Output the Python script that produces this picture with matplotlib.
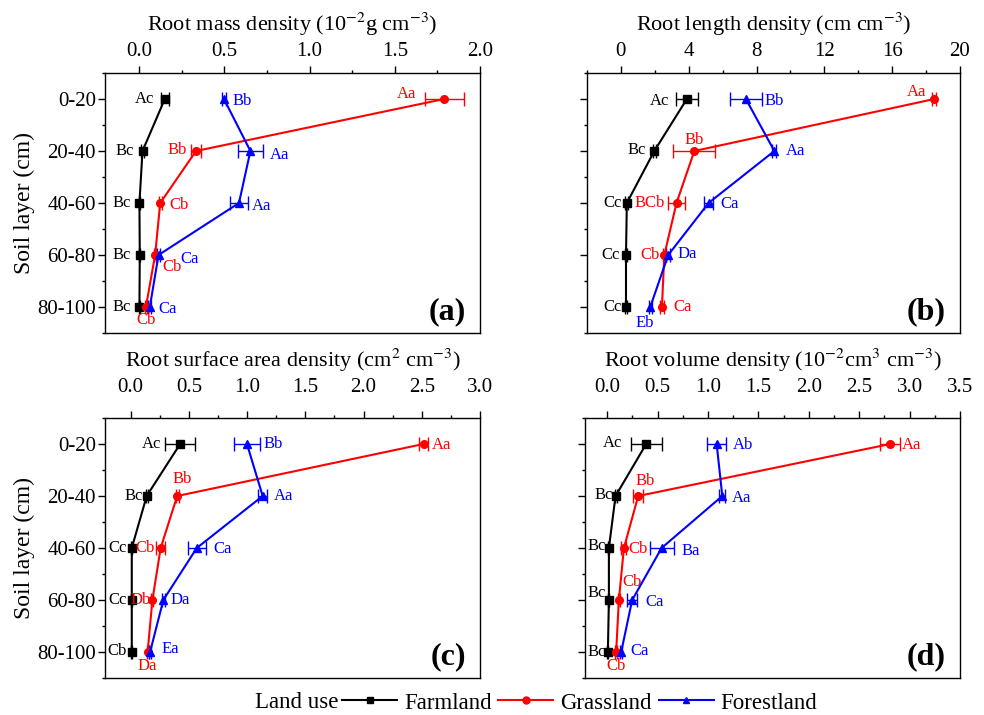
import matplotlib
matplotlib.use('Agg')
import matplotlib.pyplot as plt
from matplotlib.ticker import MultipleLocator
from matplotlib.lines import Line2D

plt.rcParams['font.family'] = ['Liberation Serif', 'DejaVu Serif']
plt.rcParams['mathtext.fontset'] = 'stix'

# DATA
layers = ['0-20', '20-40', '40-60', '60-80', '80-100']
land_uses = ['Farmland', 'Grassland', 'Forestland']

# (a) root mass density, 10^-2 g cm^-3  -> [farm, grass, forest]
rmd_mean = [[0.151, 0.020, 0.002, 0.004, 0.002],
            [1.790, 0.334, 0.124, 0.094, 0.040],
            [0.498, 0.653, 0.586, 0.114, 0.063]]
rmd_err = [[0.022, 0.008, 0.004, 0.004, 0.004],
           [0.115, 0.030, 0.008, 0.008, 0.008],
           [0.010, 0.075, 0.055, 0.010, 0.008]]
rmd_sig = [['Ac', 'Bc', 'Bc', 'Bc', 'Bc'],
           ['Aa', 'Bb', 'Cb', 'Cb', 'Cb'],
           ['Bb', 'Aa', 'Aa', 'Ca', 'Ca']]

# (b) root length density, cm cm^-3
rld_mean = [[3.89, 1.97, 0.35, 0.30, 0.30],
            [18.49, 4.33, 3.28, 2.56, 2.42],
            [7.37, 9.05, 5.17, 2.79, 1.73]]
rld_err = [[0.65, 0.10, 0.08, 0.06, 0.06],
           [0.12, 1.24, 0.52, 0.10, 0.10],
           [0.93, 0.12, 0.25, 0.12, 0.10]]
rld_sig = [['Ac', 'Bc', 'Cc', 'Cc', 'Cc'],
           ['Aa', 'Bb', 'BCb', 'Cb', 'Ca'],
           ['Bb', 'Aa', 'Ca', 'Da', 'Eb']]

# (c) root surface area density, cm2 cm^-3
rsa_mean = [[0.425, 0.138, 0.010, 0.010, 0.010],
            [2.515, 0.400, 0.258, 0.187, 0.146],
            [0.999, 1.134, 0.568, 0.281, 0.167]]
rsa_err = [[0.130, 0.010, 0.006, 0.006, 0.006],
           [0.040, 0.012, 0.040, 0.008, 0.008],
           [0.110, 0.040, 0.075, 0.010, 0.010]]
rsa_sig = [['Ac', 'Bc', 'Cc', 'Cc', 'Cb'],
           ['Aa', 'Bb', 'Cb', 'Db', 'Da'],
           ['Bb', 'Aa', 'Ca', 'Da', 'Ea']]

# (d) root volume density, 10^-2 cm3 cm^-3
rvd_mean = [[0.387, 0.083, 0.017, 0.017, 0.007],
            [2.808, 0.308, 0.166, 0.116, 0.089],
            [1.086, 1.142, 0.540, 0.248, 0.139]]
rvd_err = [[0.155, 0.010, 0.006, 0.006, 0.006],
           [0.100, 0.050, 0.025, 0.010, 0.010],
           [0.097, 0.030, 0.118, 0.050, 0.010]]
rvd_sig = [['Ac', 'Bc', 'Bc', 'Bc', 'Bc'],
           ['Aa', 'Bb', 'Cb', 'Cb', 'Cb'],
           ['Ab', 'Aa', 'Ba', 'Ca', 'Ca']]


# STYLE
colors = ['black', '#ff0000', '#0000ff']
markers = ['s', 'o', '^']
depth = list(range(1, len(layers) + 1))

# label offsets in pixels (dx, dy, ha) for each land use and layer
off_a = [[(-11, 0, 'right'), (-9, 0, 'right'), (-9, 0, 'right'), (-9, 0, 'right'), (-9, 0, 'right')],
         [(-28, 5, 'right'), (-9, 1, 'right'), (9, -2, 'left'), (7, -12, 'left'), (0, -13, 'center')],
         [(9, -2, 'left'), (19, -4, 'left'), (13, -3, 'left'), (22, -4, 'left'), (9, -2, 'left')]]
off_b = [[(-18, -2, 'right'), (-8, 1, 'right'), (-5, 0, 'right'), (-6, 0, 'right'), (-4, 0, 'right')],
         [(-8, 7, 'right'), (0, 11, 'center'), (-12, 0, 'right'), (-5, 0, 'right'), (11, 0, 'left')],
         [(19, -2, 'left'), (11, 0, 'left'), (12, -1, 'left'), (9, 1, 'left'), (-5, -16, 'center')]]
off_c = [[(-19, 0, 'right'), (-4, 0, 'right'), (-5, 0, 'right'), (-5, 0, 'right'), (-5, 1, 'right')],
         [(8, -1, 'left'), (5, 17, 'center'), (-6, 0, 'right'), (-2, 0, 'right'), (0, -14, 'center')],
         [(17, 0, 'left'), (11, 0, 'left'), (17, -1, 'left'), (7, 0, 'left'), (11, 3, 'left')]]
off_d = [[(-24, 1, 'right'), (-3, 1, 'right'), (-3, 2, 'right'), (-3, 7, 'right'), (-2, 0, 'right')],
         [(12, -1, 'left'), (7, 15, 'center'), (4, -1, 'left'), (13, 18, 'center'), (0, -14, 'center')],
         [(16, -1, 'left'), (10, -2, 'left'), (20, -3, 'left'), (13, -2, 'left'), (9, 1, 'left')]]


def draw_panel(ax, means, errs, sigs, offs, xlim, xmajor, title, tag, pad, show_ylabels):
    for i in range(3):
        ax.errorbar(means[i], depth, xerr=errs[i], fmt='none', ecolor=colors[i],
                    elinewidth=1.0, capsize=5, capthick=1.0, zorder=2)
        ax.plot(means[i], depth, color=colors[i], marker=markers[i], markersize=5.5,
                linewidth=1.5, zorder=3)
        for j in range(len(depth)):
            dx, dy, ha = offs[i][j]
            ax.annotate(sigs[i][j], xy=(means[i][j], depth[j]), xytext=(dx, dy),
                        textcoords='offset pixels', ha=ha, va='center',
                        fontsize=12, color=colors[i])
    ax.set_xlim(*xlim)
    ax.set_ylim(5.5, 0.5)
    ax.xaxis.tick_top()
    ax.xaxis.set_label_position('top')
    ax.xaxis.set_major_locator(MultipleLocator(xmajor))
    ax.xaxis.set_minor_locator(MultipleLocator(xmajor / 2))
    ax.set_yticks(depth)
    ax.yaxis.set_minor_locator(MultipleLocator(0.5))
    if show_ylabels:
        ax.set_yticklabels(layers)
        ax.set_ylabel('Soil layer (cm)', fontsize=17)
        ax.yaxis.set_label_coords(-0.187, 0.5)
    else:
        ax.set_yticklabels([])
    ax.tick_params(axis='both', which='major', direction='out', length=5, width=1.0, labelsize=15)
    ax.tick_params(axis='both', which='minor', direction='out', length=2.5, width=1.0)
    ax.tick_params(axis='x', which='major', pad=pad)
    ax.tick_params(axis='y', which='major', pad=1.5)
    ax.set_xlabel(title, fontsize=16, labelpad=8)
    for s in ax.spines.values():
        s.set_linewidth(1.0)
    ax.text(0.962, 0.025, tag, transform=ax.transAxes, ha='right', va='bottom',
            fontsize=23, fontweight='bold')


fig = plt.figure(figsize=(9.84, 7.15), dpi=100)
ax_a = fig.add_axes([105 / 984, 1 - 333 / 715, 375 / 984, 260 / 715])
ax_b = fig.add_axes([587 / 984, 1 - 333 / 715, 373 / 984, 260 / 715])
ax_c = fig.add_axes([105 / 984, 1 - 678 / 715, 375 / 984, 260 / 715])
ax_d = fig.add_axes([585 / 984, 1 - 678 / 715, 375 / 984, 260 / 715])

draw_panel(ax_a, rmd_mean, rmd_err, rmd_sig, off_a, (-0.2, 2.0), 0.5,
           'Root mass density (10$^{-2}$g cm$^{-3}$)', '(a)', 4, True)
draw_panel(ax_b, rld_mean, rld_err, rld_sig, off_b, (-2, 20), 4,
           'Root length density (cm cm$^{-3}$)', '(b)', 4, False)
draw_panel(ax_c, rsa_mean, rsa_err, rsa_sig, off_c, (-0.22, 3.0), 0.5,
           'Root surface area density (cm$^{2}$ cm$^{-3}$)', '(c)', 10, True)
draw_panel(ax_d, rvd_mean, rvd_err, rvd_sig, off_d, (-0.22, 3.5), 0.5,
           'Root volume density (10$^{-2}$cm$^{3}$ cm$^{-3}$)', '(d)', 10, False)

handles = [Line2D([], [], color=colors[i], marker=markers[i], markersize=5, linewidth=1.5)
           for i in range(3)]
fig.text(338 / 984, 1 - 703 / 715, 'Land use', ha='right', va='center', fontsize=16.5)
fig.legend(handles, land_uses, loc='center left', bbox_to_anchor=(342 / 984, 1 - 703 / 715),
           ncol=3, frameon=False, fontsize=16.5, handlelength=2.4, handletextpad=0.3,
           columnspacing=0.3, borderaxespad=0, borderpad=0)

fig.savefig('out.png', dpi=100)
